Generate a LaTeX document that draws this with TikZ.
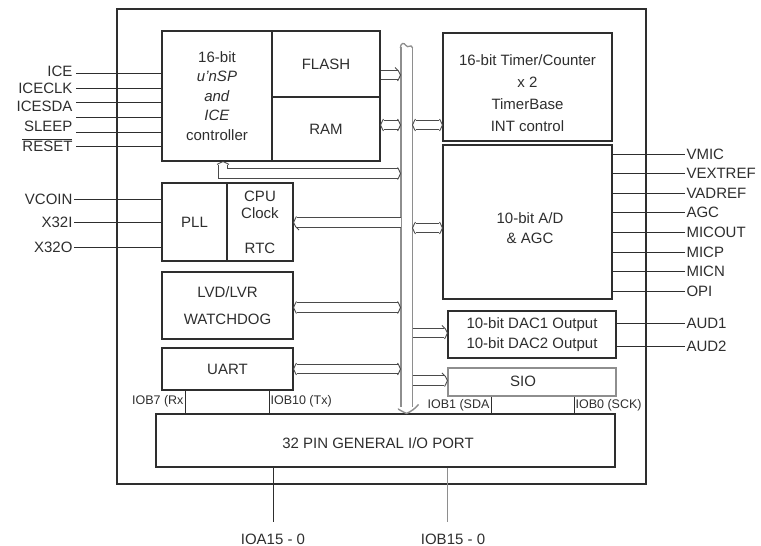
\documentclass[tikz,border=0pt]{standalone}
\usepackage{fontspec}
\setmainfont{Liberation Sans}
\usetikzlibrary{arrows.meta}
\definecolor{cink}{HTML}{2E2E2E}
\definecolor{cbus}{HTML}{8E8E8E}
\definecolor{clink}{HTML}{4A4A4A}
\tikzset{
  every picture/.style={font=\fontsize{15}{19.5}\selectfont, line width=1.1pt, text=cink},
  blk/.style={draw=cink, align=center, inner sep=0pt},
  pin/.style={draw=cink, line width=1pt},
  tag/.style={font=\fontsize{15}{18}\selectfont, inner sep=1pt},
  portlbl/.style={font=\fontsize{12.5}{14}\selectfont, inner sep=1pt},
  link/.style={draw=clink, double, double distance=8.5pt, line width=0.9pt},
  bus/.style={draw=cbus, double, double distance=10pt, line width=1.3pt},
  % open heads for the double links
  hd/.pic={\draw[clink, line width=0.9pt] (-5.5,-7.5) .. controls (-3,-6) and (-1,-3) .. (0,0) .. controls (-1,3) and (-3,6) .. (-5.5,7.5);},
  bushd/.pic={\draw[cbus, line width=1.4pt] (-9,-12) .. controls (-5.5,-9.5) and (-1.5,-4) .. (0,0) .. controls (-1.5,4) and (-5.5,9.5) .. (-9,12);},
}

\begin{document}
\begin{tikzpicture}[x=1pt, y=-1pt]
  \useasboundingbox (0,0) rectangle (761,546);
  % chip outline and blocks
  \node[blk, minimum width=529, minimum height=475] (chip) at (381.5,246.5) {};
  \node[blk, minimum width=110, minimum height=130] (cpu) at (217,96) {16-bit\\\textit{u'nSP}\\\textit{and}\\\textit{ICE}\\controller};
  \node[blk, minimum width=108, minimum height=66] (flash) at (326,64) {FLASH};
  \node[blk, minimum width=108, minimum height=64] (ram) at (326,129) {RAM};
  \node[blk, minimum width=169, minimum height=108] (timer) at (527.5,87) {};
  \node[align=center, font=\fontsize{15}{22}\selectfont] (timer-t) at (527.5,93) {16-bit Timer/Counter\\x 2\\TimerBase\\INT control};
  \node[blk, minimum width=169, minimum height=154] (adc) at (527.5,222) {};
  \node[align=center] (adc-t) at (530,228) {10-bit A/D\\ \& AGC};
  \node[blk, minimum width=65, minimum height=78] (pll) at (194.5,222) {PLL};
  \node[blk, minimum width=66, minimum height=78, font=\fontsize{15}{17}\selectfont] (clk) at (260,222) {CPU\\Clock\\[18pt]RTC};
  \node[blk, minimum width=131, minimum height=67, font=\fontsize{15}{27}\selectfont] (lvd) at (227.5,305.5) {LVD/LVR\\WATCHDOG};
  \node[blk, minimum width=131, minimum height=42] (uart) at (227.5,369) {UART};
  \node[blk, minimum width=168, minimum height=47] (dac) at (532,334.5) {10-bit DAC1 Output\\10-bit DAC2 Output};
  \node[blk, draw=cbus, minimum width=168, minimum height=28] (sio) at (532,382) {};
  \node (sio-t) at (523,381) {SIO};
  \node[blk, minimum width=459, minimum height=53] (gpio) at (385.5,440.5) {};
  \node (gpio-t) at (378,443) {32 PIN GENERAL I/O PORT};

  % cpu pins
  \foreach \n/\y in {ICE/71, ICECLK/88, ICESDA/106, SLEEP/126}
    \node[tag, anchor=east] (p-\n) at (74,\y) {\n};
  \node[tag, anchor=east] (p-RESET) at (74,145) {$\overline{\mbox{RESET}}$};
  \foreach \y [count=\i] in {73,88,102,117,132,146} {
    \coordinate (s\i) at (76,\y);
    \draw[pin] (s\i) -- (cpu.west |- s\i);
  }
  % clock pins
  \foreach \n/\y in {VCOIN/199, X32I/222, X32O/247} {
    \node[tag, anchor=east] (p-\n) at (74,\y) {\n};
    \draw[pin] (p-\n.east) -- (pll.west |- p-\n);
  }
  % analog pins
  \foreach \n [count=\i from 0] in {VMIC,VEXTREF,VADREF,AGC,MICOUT,MICP,MICN,OPI} {
    \node[tag, anchor=west] (r\i) at (685,{154+19.6*\i}) {\n};
    \draw[pin] (adc.east |- r\i) -- (r\i.west);
  }
  \node[tag, anchor=west] (aud1) at (685,323) {AUD1};
  \node[tag, anchor=west] (aud2) at (685,346) {AUD2};
  \draw[pin] (dac.east |- aud1) -- (aud1.west);
  \draw[pin] (dac.east |- aud2) -- (aud2.west);

  % port taps
  \node[portlbl, anchor=east] (rx) at (185,401) {IOB7 (Rx};
  \node[portlbl, anchor=west] (tx) at (269,401) {IOB10 (Tx)};
  \node[portlbl, anchor=east] (sda) at (491,405) {IOB1 (SDA};
  \node[portlbl, anchor=west] (sck) at (574,405) {IOB0 (SCK)};
  \draw[pin] (uart.south -| rx.east) -- (gpio.north -| rx.east);
  \draw[pin] (uart.south -| tx.west) -- (gpio.north -| tx.west);
  \draw[pin] (sio.south -| sda.east) -- (gpio.north -| sda.east);
  \draw[pin] (sio.south -| sck.west) -- (gpio.north -| sck.west);
  \node[tag] (ioa) at (273,539) {IOA15 - 0};
  \node[tag] (iob) at (453,539) {IOB15 - 0};
  \draw[pin] (gpio.south -| ioa) -- ([yshift=10pt]ioa.north);
  \draw[pin, draw=cbus] (gpio.south -| 447,0) -- ([yshift=10pt]iob.north -| 447,0);

  % internal bus
  \coordinate (bustop) at (406.5,47);
  \coordinate (busL) at (400.5,0);
  \coordinate (busR) at (412.5,0);
  \draw[bus, shorten >=6pt] (bustop) -- (gpio.north -| bustop) pic[rotate=-90] {bushd};
  \draw[cbus, line width=1.3pt] (400.35,48) .. controls (400.5,43) and (404,42) .. (406,45.5) .. controls (408,49) and (411,43) .. (412.65,48);
  \draw[link, shorten >=3pt] (flash.east |- 0,75) -- (busL |- 0,75) pic {hd};
  \draw[link, shorten <=3pt, shorten >=3pt] (ram.east |- 0,125) pic[rotate=180] {hd} -- (busL |- 0,125) pic {hd};
  \draw[link, shorten <=3pt, shorten >=3pt] (busR |- 0,125) pic[rotate=180] {hd} -- (timer.west |- 0,125) pic {hd};
  \draw[link, shorten <=3pt, shorten >=3pt] (cpu.south -| 223,0) pic[rotate=90] {hd} -- (223,173.5) -- (busL |- 0,173.5) pic {hd};
  \draw[link, shorten >=3pt] (busL |- 0,222.5) -- (clk.east |- 0,222.5) pic[rotate=180] {hd};
  \draw[link, shorten <=3pt, shorten >=3pt] (busR |- 0,228) pic[rotate=180] {hd} -- (adc.west |- 0,228) pic {hd};
  \draw[link, shorten <=3pt, shorten >=3pt] (lvd.east |- 0,307.5) pic[rotate=180] {hd} -- (busL |- 0,307.5) pic {hd};
  \draw[link, shorten <=3pt, shorten >=3pt] (uart.east |- 0,369) pic[rotate=180] {hd} -- (busL |- 0,369) pic {hd};
  \draw[link, shorten >=3pt] (busR |- 0,333) -- (dac.west |- 0,333) pic {hd};
  \draw[link, shorten >=3pt] (busR |- 0,380.5) -- (sio.west |- 0,380.5) pic {hd};
\end{tikzpicture}
\end{document}
